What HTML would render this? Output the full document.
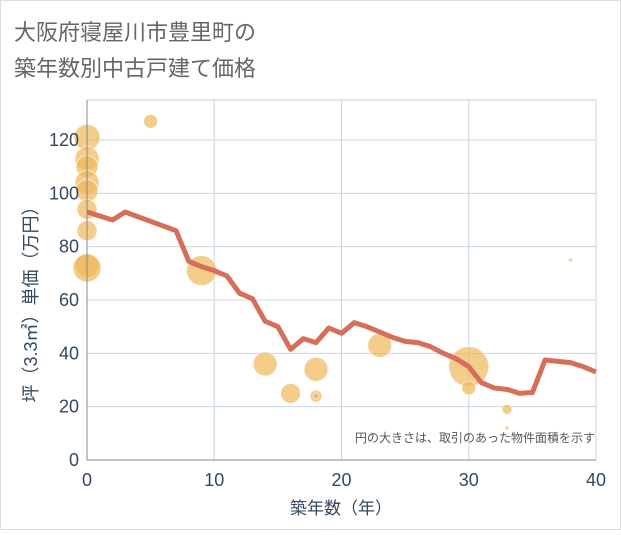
<!DOCTYPE html>
<html><head><meta charset="utf-8"><style>
body{margin:0;background:#fff}
svg text{font-family:"Liberation Sans","Noto Sans CJK JP",sans-serif}
</style></head><body>
<svg width="621" height="530" viewBox="0 0 621 530">
<rect x="0.5" y="0.5" width="620" height="529" fill="#fff" stroke="#ddd"/>
<text x="14" y="40" font-size="22" fill="#666">大阪府寝屋川市豊里町の</text>
<text x="14" y="76" font-size="22" fill="#666">築年数別中古戸建て価格</text>
<g id="grid"></g>
<g id="bubbles"></g>
<g id="lineg"></g>
<g id="axes"></g>
<text x="595" y="442" font-size="12" fill="#555" text-anchor="end">円の大きさは、取引のあった物件面積を示す</text>
<text x="341" y="514" font-size="17" fill="#34495e" text-anchor="middle">築年数（年）</text>
<text transform="translate(37,300) rotate(-90)" font-size="18" fill="#34495e" text-anchor="middle">坪（3.3㎡）単価（万円）</text>
</svg>
<script>
const xTicks=[0,10,20,30,40];
const yTicks=[0,20,40,60,80,100,120];
const lineYears=[0,2,3,7,8,9,10,11,12,13,14,15,16,17,18,19,20,21,22,23,24,25,26,27,28,29,30,31,32,33,34,35,36,37,38,39,40];
const lineValues=[93,90,93,86,74.5,72.5,71,69,62.5,60.5,52,50,41.5,45.5,44,49.5,47.5,51.5,50,48,46,44.5,44,42.5,40,38,35,29,27,26.5,25,25.3,37.5,37,36.5,35,33];
const bubbleYears=[0,0,0,0,0,0,0,0,0,5,9,14,16,18,18,18,23,30,30,33,33,38];
const bubbleValues=[121,113,110,104,101,94,86,73,72,127,71,36,25,34,24,24,43,35,27,19,12,75];
const bubbleSizes=[13,12,11,12,11,10,10,12,14,7,15,12,10,12,6,3,12,20,7,5,2,2];
const X0=87,X1=596,Y0=460,Y1=140;
const xs=v=>X0+(X1-X0)*v/40;
const ys=v=>Y0-(Y0-Y1)*v/120;
const NS="http://www.w3.org/2000/svg";
function mk(t,a,p){const e=document.createElementNS(NS,t);for(const k in a)e.setAttribute(k,a[k]);p.appendChild(e);return e;}
const grid=document.getElementById('grid'),axes=document.getElementById('axes');
mk('rect',{x:X0,y:100,width:X1-X0,height:Y0-100,fill:'none',stroke:'#ccc'},grid);
xTicks.forEach(t=>{const l=mk('line',{x1:xs(t),x2:xs(t),y1:100,y2:Y0,stroke:'#c8d6e2'},grid);


const tx=mk('text',{x:xs(t),y:486,'font-size':18,fill:'#34495e','text-anchor':'middle'},axes);tx.textContent=t;

});
yTicks.forEach(t=>{const l=mk('line',{x1:X0,x2:X1,y1:ys(t),y2:ys(t),stroke:'#c8d6e2'},grid);


const tx=mk('text',{x:79,y:ys(t)+6,'font-size':18,fill:'#34495e','text-anchor':'end'},axes);tx.textContent=t;

});
mk('line',{x1:X0,x2:X0,y1:100,y2:Y0,stroke:'#889'},axes);
mk('line',{x1:X0,x2:X1,y1:Y0,y2:Y0,stroke:'#889'},axes);
const bg=document.getElementById('bubbles');
bubbleYears.forEach((yr,i)=>{const c=mk('circle',{cx:xs(yr),cy:ys(bubbleValues[i]),r:bubbleSizes[i],fill:'#f0b858','fill-opacity':0.7,stroke:'#fff','stroke-opacity':0.6},bg);

});
const pts=lineYears.map((yr,i)=>xs(yr)+','+ys(lineValues[i])).join(' ');
const pl=mk('polyline',{points:pts,fill:'none',stroke:'#d66f5a',"stroke-width":5,"stroke-linejoin":"round"},document.getElementById('lineg'));


</script>
</body></html>
